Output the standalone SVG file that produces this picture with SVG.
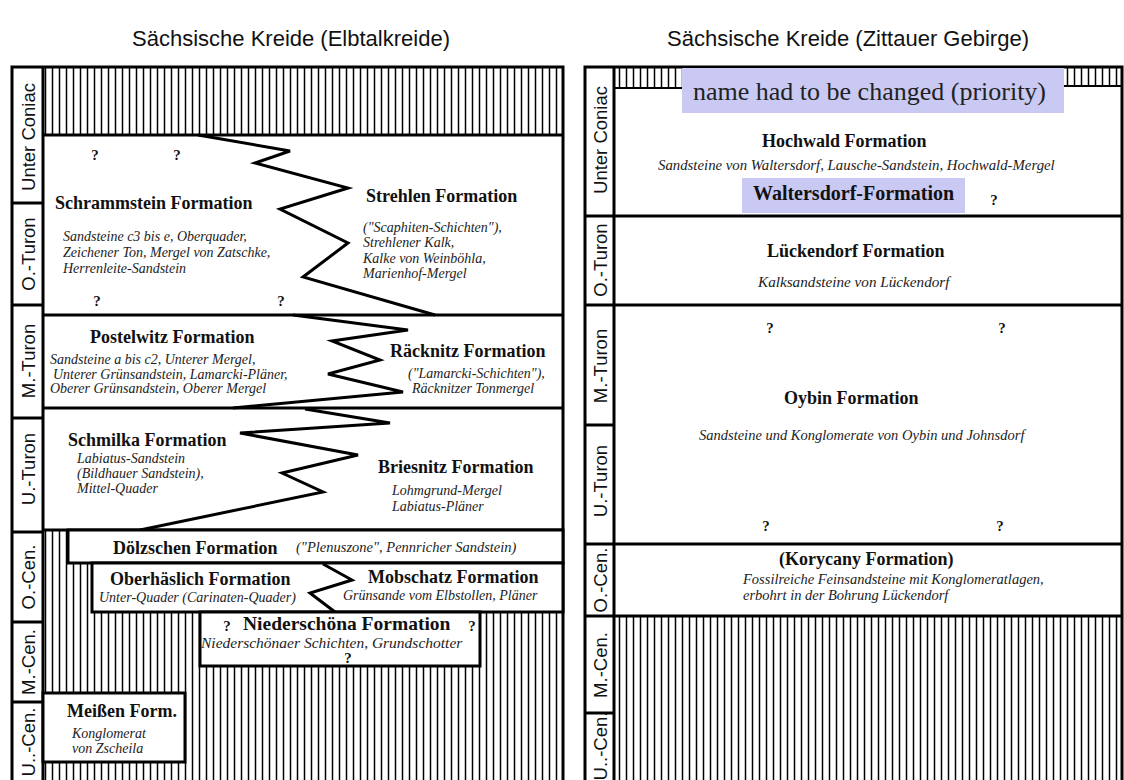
<svg xmlns="http://www.w3.org/2000/svg" width="1124" height="780" viewBox="0 0 1124 780">
<defs>
<pattern id="hatch" width="7" height="20" patternUnits="userSpaceOnUse">
<rect width="7" height="20" fill="#fff"/>
<line x1="3.5" y1="0" x2="3.5" y2="20" stroke="#000" stroke-width="1.5"/>
</pattern>
<style>
.title{font-family:"Liberation Sans",Arial,sans-serif;font-size:22px;fill:#111}
.age{font-family:"Liberation Sans",Arial,sans-serif;font-size:18.5px;fill:#111}
.fm{font-family:"Liberation Serif","Times New Roman",serif;font-size:18px;font-weight:bold;fill:#111}
.it{font-family:"Liberation Serif","Times New Roman",serif;font-size:14px;font-style:italic;fill:#222}
.itr{font-family:"Liberation Serif","Times New Roman",serif;font-size:14.5px;font-style:italic;fill:#222}
.q{font-family:"Liberation Serif","Times New Roman",serif;font-size:15px;font-weight:bold;fill:#111}
.note{font-family:"Liberation Serif","Times New Roman",serif;font-size:26px;fill:#222}
.ln{stroke:#000;stroke-width:3;fill:none}
.box{stroke:#000;stroke-width:3;fill:#fff}
.zz{stroke:#000;stroke-width:3;fill:none;stroke-linejoin:miter}
.hl{fill:#c9c9f3}
</style>
</defs>
<rect width="1124" height="780" fill="#fff"/>

<g id="titles">
<text class="title" x="291" y="46" text-anchor="middle">Sächsische Kreide (Elbtalkreide)</text>
<text class="title" x="848" y="46" text-anchor="middle">Sächsische Kreide (Zittauer Gebirge)</text>
</g>

<!-- LEFT PANEL -->
<g id="left-frame">
<rect x="43" y="67" width="520" height="68" fill="url(#hatch)"/>
<rect x="43" y="530" width="520" height="260" fill="url(#hatch)"/>
<rect class="ln" x="12" y="67" width="551" height="730"/>
<line class="ln" x1="43" y1="67" x2="43" y2="790"/>
<line class="ln" x1="43" y1="135" x2="563" y2="135"/>
<line class="ln" x1="43" y1="315" x2="563" y2="315"/>
<line class="ln" x1="43" y1="408" x2="563" y2="408"/>
<line class="ln" x1="43" y1="530" x2="563" y2="530"/>
<line class="ln" x1="12" y1="203" x2="43" y2="203"/>
<line class="ln" x1="12" y1="305" x2="43" y2="305"/>
<line class="ln" x1="12" y1="418" x2="43" y2="418"/>
<line class="ln" x1="12" y1="532" x2="43" y2="532"/>
<line class="ln" x1="12" y1="622" x2="43" y2="622"/>
<line class="ln" x1="12" y1="702" x2="43" y2="702"/>
</g>

<g id="left-ages">
<text class="age" transform="translate(28,137) rotate(-90)" text-anchor="middle" dominant-baseline="central">Unter Coniac</text>
<text class="age" transform="translate(28,254) rotate(-90)" text-anchor="middle" dominant-baseline="central">O.-Turon</text>
<text class="age" transform="translate(28,361) rotate(-90)" text-anchor="middle" dominant-baseline="central">M.-Turon</text>
<text class="age" transform="translate(28,469) rotate(-90)" text-anchor="middle" dominant-baseline="central">U.-Turon</text>
<text class="age" transform="translate(28,577) rotate(-90)" text-anchor="middle" dominant-baseline="central">O.-Cen.</text>
<text class="age" transform="translate(28,662) rotate(-90)" text-anchor="middle" dominant-baseline="central">M.-Cen.</text>
<text class="age" transform="translate(28,742) rotate(-90)" text-anchor="middle" dominant-baseline="central">U..-Cen.</text>
</g>

<g id="boundaries">
<polyline class="zz" points="198,135 290,151 255,163 348,188 280,209 348,243 303,277 435,315"/>
<polyline class="zz" points="293,315 408,330 332,341 380,360 328,374 403,392 233,408"/>
<polyline class="zz" points="305,409 390,423 240,433 358,455 282,473 323,492 140,530"/>
</g>

<g id="schrammstein">
<text class="q" x="95" y="160" text-anchor="middle">?</text>
<text class="q" x="177" y="160" text-anchor="middle">?</text>
<text class="fm" x="55" y="209">Schrammstein Formation</text>
<text class="it" x="63" y="241">Sandsteine c3 bis e, Oberquader,</text>
<text class="it" x="63" y="257">Zeichener Ton, Mergel von Zatschke,</text>
<text class="it" x="63" y="273">Herrenleite-Sandstein</text>
<text class="q" x="97" y="306" text-anchor="middle">?</text>
<text class="q" x="281" y="306" text-anchor="middle">?</text>
</g>

<g id="strehlen">
<text class="fm" x="366" y="202">Strehlen Formation</text>
<text class="it" x="363" y="232">("Scaphiten-Schichten"),</text>
<text class="it" x="363" y="247">Strehlener Kalk,</text>
<text class="it" x="363" y="263">Kalke von Weinböhla,</text>
<text class="it" x="363" y="278">Marienhof-Mergel</text>
</g>

<g id="postelwitz">
<text class="fm" x="90" y="343">Postelwitz Formation</text>
<text class="it" x="50" y="364">Sandsteine a bis c2, Unterer Mergel,</text>
<text class="it" x="53" y="379">Unterer Grünsandstein, Lamarcki-Pläner,</text>
<text class="it" x="50" y="393">Oberer Grünsandstein, Oberer Mergel</text>
</g>

<g id="raecknitz">
<text class="fm" x="390" y="357">Räcknitz Formation</text>
<text class="it" x="408" y="378">("Lamarcki-Schichten"),</text>
<text class="it" x="412" y="393">Räcknitzer Tonmergel</text>
</g>

<g id="schmilka">
<text class="fm" x="68" y="446">Schmilka Formation</text>
<text class="it" x="77" y="463">Labiatus-Sandstein</text>
<text class="it" x="77" y="478">(Bildhauer Sandstein),</text>
<text class="it" x="77" y="493">Mittel-Quader</text>
</g>

<g id="briesnitz">
<text class="fm" x="378" y="473">Briesnitz Formation</text>
<text class="it" x="392" y="495">Lohmgrund-Mergel</text>
<text class="it" x="392" y="511">Labiatus-Pläner</text>
</g>

<g id="doelzschen">
<rect class="box" x="68" y="530" width="495" height="33"/>
<text class="fm" x="113" y="554">Dölzschen Formation</text>
<text class="itr" x="296" y="552">("Plenuszone", Pennricher Sandstein)</text>
</g>

<g id="oberhaeslich-mobschatz">
<rect class="box" x="92" y="563" width="471" height="49"/>
<polyline class="zz" points="323,564 352,580 310,593 335,612"/>
<text class="fm" x="110" y="585">Oberhäslich Formation</text>
<text class="it" x="99" y="602">Unter-Quader (Carinaten-Quader)</text>
<text class="fm" x="368" y="583">Mobschatz Formation</text>
<text class="it" x="343" y="600">Grünsande vom Elbstollen, Pläner</text>
</g>

<g id="niederschoena">
<rect class="box" x="200" y="612" width="280" height="54"/>
<text class="q" x="227" y="631" text-anchor="middle">?</text>
<text class="fm" x="243" y="630" style="font-size:19.5px">Niederschöna Formation</text>
<text class="q" x="472" y="631" text-anchor="middle">?</text>
<text class="it" x="201" y="648" style="font-size:15.5px">Niederschönaer Schichten, Grundschotter</text>
<text class="q" x="348" y="663" text-anchor="middle">?</text>
</g>

<g id="meissen">
<rect class="box" x="43" y="693" width="142" height="69"/>
<text class="fm" x="67" y="717">Meißen Form.</text>
<text class="it" x="72" y="738">Konglomerat</text>
<text class="it" x="72" y="753">von Zscheila</text>
</g>

<!-- RIGHT PANEL -->
<g id="right-frame">
<rect x="614" y="67" width="68" height="21" fill="url(#hatch)"/>
<rect x="1064" y="67" width="58" height="19" fill="url(#hatch)"/>
<rect x="614" y="616" width="508" height="170" fill="url(#hatch)"/>
<line x1="614" y1="88" x2="682" y2="88" stroke="#000" stroke-width="2"/>
<line x1="1064" y1="86" x2="1122" y2="86" stroke="#000" stroke-width="2"/>
<rect class="ln" x="585" y="67" width="537" height="730"/>
<line class="ln" x1="614" y1="67" x2="614" y2="790"/>
<line class="ln" x1="585" y1="216" x2="1122" y2="216"/>
<line class="ln" x1="585" y1="305" x2="1122" y2="305"/>
<line class="ln" x1="585" y1="544" x2="1122" y2="544"/>
<line class="ln" x1="585" y1="616" x2="1122" y2="616"/>
<line class="ln" x1="585" y1="425" x2="614" y2="425"/>
<line class="ln" x1="585" y1="713" x2="614" y2="713"/>
</g>

<g id="right-ages">
<text class="age" transform="translate(600,140) rotate(-90)" text-anchor="middle" dominant-baseline="central">Unter Coniac</text>
<text class="age" transform="translate(600,260) rotate(-90)" text-anchor="middle" dominant-baseline="central">O.-Turon</text>
<text class="age" transform="translate(600,366) rotate(-90)" text-anchor="middle" dominant-baseline="central">M.-Turon</text>
<text class="age" transform="translate(600,481) rotate(-90)" text-anchor="middle" dominant-baseline="central">U.-Turon</text>
<text class="age" transform="translate(600,580) rotate(-90)" text-anchor="middle" dominant-baseline="central">O.-Cen.</text>
<text class="age" transform="translate(600,665) rotate(-90)" text-anchor="middle" dominant-baseline="central">M.-Cen.</text>
<text class="age" transform="translate(600,746) rotate(-90)" text-anchor="middle" dominant-baseline="central">U..-Cen.</text>
</g>

<g id="note-priority">
<rect class="hl" x="682" y="68" width="382" height="45"/>
<text class="note" x="693" y="100">name had to be changed (priority)</text>
</g>

<g id="hochwald">
<text class="fm" x="762" y="147">Hochwald Formation</text>
<text class="itr" x="658" y="170" style="font-size:14.8px">Sandsteine von Waltersdorf, Lausche-Sandstein, Hochwald-Mergel</text>
</g>

<g id="waltersdorf">
<rect class="hl" x="742" y="178" width="223" height="35"/>
<text class="fm" x="753" y="200" style="font-size:20px">Waltersdorf-Formation</text>
<text class="q" x="994" y="205" text-anchor="middle">?</text>
</g>

<g id="lueckendorf">
<text class="fm" x="767" y="257">Lückendorf Formation</text>
<text class="itr" x="758" y="287" style="font-size:15.2px">Kalksandsteine von Lückendorf</text>
</g>

<g id="oybin">
<text class="q" x="770" y="333" text-anchor="middle">?</text>
<text class="q" x="1002" y="333" text-anchor="middle">?</text>
<text class="fm" x="784" y="404">Oybin Formation</text>
<text class="itr" x="699" y="440">Sandsteine und Konglomerate von Oybin und Johnsdorf</text>
<text class="q" x="766" y="531" text-anchor="middle">?</text>
<text class="q" x="1000" y="531" text-anchor="middle">?</text>
</g>

<g id="korycany">
<text class="fm" x="779" y="565">(Korycany Formation)</text>
<text class="itr" x="743" y="584">Fossilreiche Feinsandsteine mit Konglomeratlagen,</text>
<text class="itr" x="743" y="600">erbohrt in der Bohrung Lückendorf</text>
</g>
</svg>
